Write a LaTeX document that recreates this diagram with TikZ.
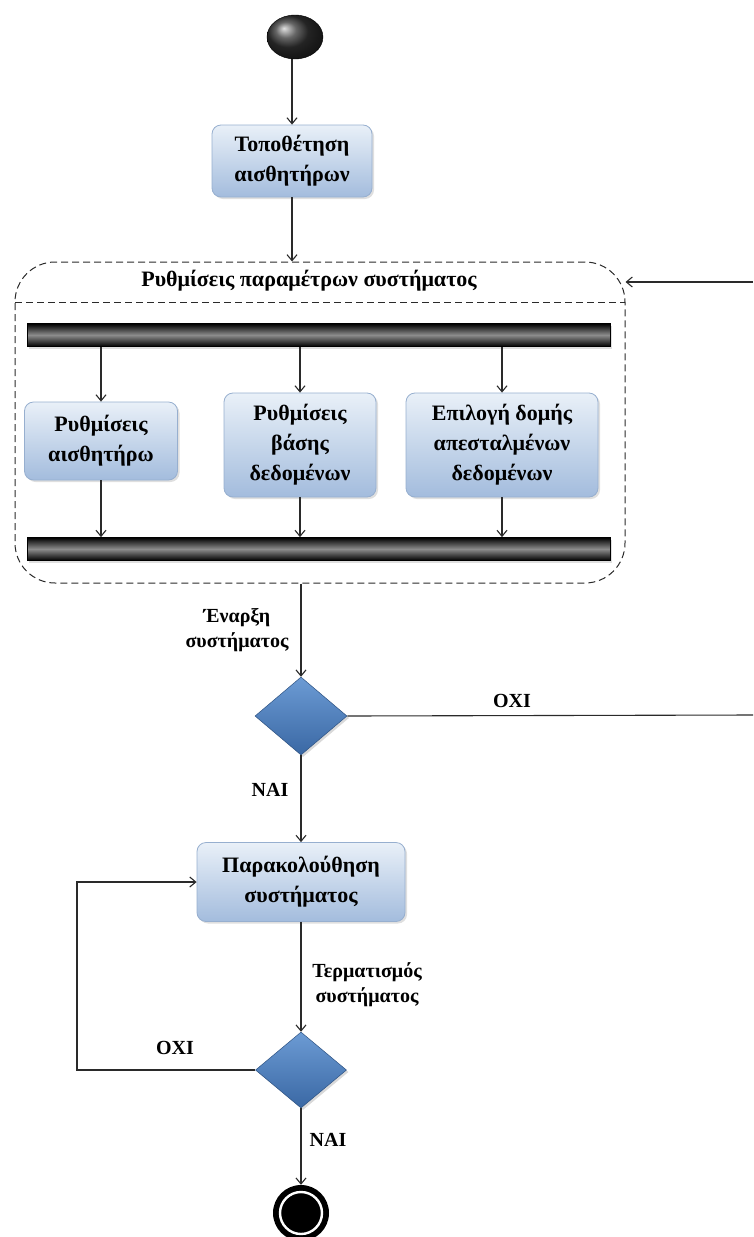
\documentclass[tikz,border=0pt]{standalone}
\usepackage{fontspec}
\setmainfont{Liberation Serif}
\usetikzlibrary{arrows.meta,shapes.geometric,shadows}
\definecolor{boxtop}{HTML}{E9F0F8}
\definecolor{boxbot}{HTML}{A3BCDD}
\definecolor{boxline}{HTML}{97AFCF}
\definecolor{dtop}{HTML}{6C9BD4}
\definecolor{dbot}{HTML}{3A68A4}
\definecolor{lin}{HTML}{2A2A2A}
\tikzset{
  arr/.style={draw=lin, line width=1.1pt, -{Straight Barb[length=6pt,width=10pt]}},
  plain/.style={draw=lin, line width=1.1pt},
  actbox/.style={rectangle, rounded corners=9pt, draw=boxline, line width=0.8pt,
     top color=boxtop, bottom color=boxbot, align=center, inner sep=2pt,
     font=\fontsize{22}{30}\selectfont\bfseries,
     drop shadow={opacity=0.25, shadow xshift=2pt, shadow yshift=-2pt}},
  bar/.style={rectangle, draw=black, line width=0.8pt, top color=black, bottom color=black,
     middle color=black!45, minimum width=583pt, minimum height=23pt, inner sep=0pt,
     drop shadow={opacity=0.25, shadow xshift=2pt, shadow yshift=-2pt}},
  decision/.style={diamond, draw=dbot!80!black, line width=0.5pt, top color=dtop, bottom color=dbot,
     inner sep=0pt, drop shadow={opacity=0.3, shadow xshift=2pt, shadow yshift=-2pt}},
  lbl/.style={font=\fontsize{20}{25}\selectfont\bfseries, align=center, inner sep=0pt},
  container/.style={rectangle, draw=lin, line width=1pt, dash pattern=on 7pt off 4pt,
     rounded corners=40pt, minimum width=610pt, minimum height=321pt, inner sep=0pt}
}
\begin{document}
\begin{tikzpicture}[x=1pt,y=-1pt]
\useasboundingbox (0,0) rectangle (753,1237);
% start
\node[ellipse, minimum width=56pt, minimum height=44pt, inner sep=0pt, shading=ball, ball color=black!80, draw=black] (start) at (295,37) {};
\node[actbox, minimum width=160pt, minimum height=72pt] (place) at (292,161) {Τοποθέτηση\\αισθητήρων};
% container
\node[container] (params) at (320,422.5) {};
\node[font=\fontsize{22}{24}\selectfont\bfseries, inner sep=0pt] (ptitle) at (309,281) {Ρυθμίσεις παραμέτρων συστήματος};
\coordinate (sepL) at (15,302);
\coordinate (sepR) at (625,302);
\draw[draw=lin, line width=1pt, dash pattern=on 7pt off 4pt] (sepL) -- (sepR);
\node[bar] (fork) at (318.5,335) {};
\node[bar] (join) at (318.5,549) {};
\node[actbox, minimum width=153pt, minimum height=78pt] (sa) at (101,441) {Ρυθμίσεις\\αισθητήρω};
\node[actbox, minimum width=152pt, minimum height=104pt] (sb) at (300,445) {Ρυθμίσεις\\βάσης\\δεδομένων};
\node[actbox, minimum width=192pt, minimum height=104pt] (sc) at (502,445) {Επιλογή δομής\\απεσταλμένων\\δεδομένων};
% decisions
\node[decision, minimum width=92pt, minimum height=78pt] (d1) at (301,716) {};
\node[actbox, minimum width=208pt, minimum height=79pt] (mon) at (301,882) {Παρακολούθηση\\συστήματος};
\node[decision, minimum width=91pt, minimum height=76pt] (d2) at (301,1070) {};
% end
\node[circle, fill=black, minimum size=56pt, inner sep=0pt] (end) at (301,1213) {};
\draw[white, line width=2.4pt] (end.center) circle (21pt);
% labels
\node[lbl] (lstart) at (237,630) {Έναρξη\\συστήματος};
\node[lbl] (lno1) at (512,701) {OXI};
\node[lbl] (lyes1) at (270,790) {NAI};
\node[lbl] (lterm) at (367,985) {Τερματισμός\\ συστήματος};
\node[lbl] (lno2) at (175,1048) {OXI};
\node[lbl] (lyes2) at (328,1140) {NAI};
% connectors
\draw[arr] (start.south -| place.north) -- (place.north);
\draw[arr] (place.south) -- (place.south |- params.north);
\foreach \b in {sa,sb,sc}{
  \draw[arr] (fork.south -| \b.north) -- (\b.north);
  \draw[arr] (\b.south) -- (\b.south |- join.north);
}
\draw[arr] (params.south -| d1.north) -- (d1.north);
\coordinate (rin) at (753,282);
\coordinate (rout) at (753,715);
\draw[arr] (rin) -- (rin -| params.east);
\draw[plain] (d1.east) -- (rout);
\draw[arr] (d1.south) -- (mon.north);
\draw[arr] (mon.south) -- (d2.north);
\coordinate (loopc) at (77,1070);
\draw[arr] (d2.west) -- (loopc) |- (mon.west);
\draw[arr] (d2.south) -- (end.north);
\end{tikzpicture}
\end{document}
